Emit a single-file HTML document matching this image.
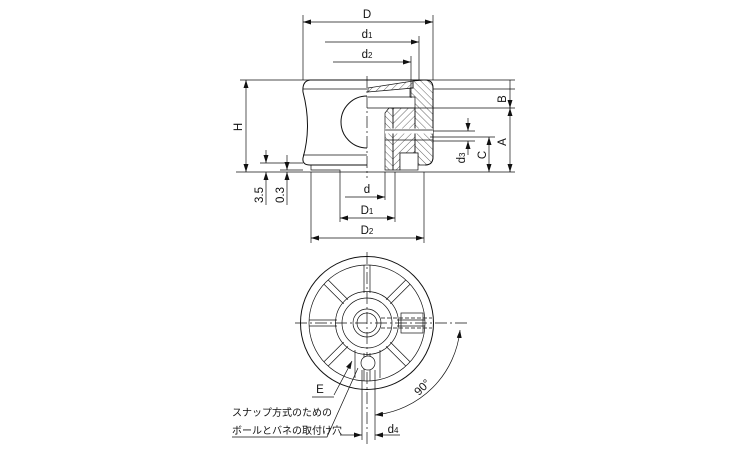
<!DOCTYPE html>
<html><head><meta charset="utf-8"><style>
html,body{margin:0;padding:0;background:#fff;width:750px;height:450px;overflow:hidden}
text{font-family:"Liberation Sans",Arial,sans-serif;fill:#111}
.jp{font-family:"Liberation Sans","Noto Sans CJK JP",sans-serif}
</style></head><body>
<svg width="750" height="450" viewBox="0 0 750 450" xmlns="http://www.w3.org/2000/svg">
<defs>
<pattern id="h1" width="5" height="5" patternUnits="userSpaceOnUse" patternTransform="rotate(45)"><line x1="0" y1="0" x2="0" y2="5" stroke="#222" stroke-width="0.7"/></pattern>
<pattern id="h2" width="5" height="5" patternUnits="userSpaceOnUse" patternTransform="rotate(-45)"><line x1="0" y1="0" x2="0" y2="5" stroke="#222" stroke-width="0.7"/></pattern>
<marker id="a" markerWidth="8" markerHeight="6" refX="8" refY="3" orient="auto" markerUnits="userSpaceOnUse"><path d="M0,0.5 L8,3 L0,5.5 Z" fill="#111"/></marker>
<marker id="s" markerWidth="8" markerHeight="6" refX="0" refY="3" orient="auto" markerUnits="userSpaceOnUse"><path d="M8,0.5 L0,3 L8,5.5 Z" fill="#111"/></marker>
</defs>
<g stroke="#111" stroke-width="0.7" fill="none">
<line x1="303" y1="15" x2="303" y2="80"/><line x1="433" y1="15" x2="433" y2="80"/>
<line x1="303" y1="22" x2="433" y2="22" marker-start="url(#s)" marker-end="url(#a)"/>
<line x1="325" y1="42" x2="419" y2="42" marker-end="url(#a)"/><line x1="419" y1="36" x2="419" y2="80"/>
<line x1="333" y1="62" x2="411" y2="62" marker-end="url(#a)"/><line x1="411" y1="56" x2="411" y2="98"/>
<line x1="240" y1="80" x2="310" y2="80"/>
<line x1="246" y1="80" x2="246" y2="172" marker-start="url(#s)" marker-end="url(#a)"/>
<line x1="236" y1="172" x2="515" y2="172"/>
<line x1="425" y1="80" x2="515" y2="80"/>
<line x1="433" y1="89" x2="515" y2="89"/>
<line x1="433" y1="108" x2="515" y2="108"/>
<line x1="510" y1="80" x2="510" y2="172"/>
<line x1="510" y1="100" x2="510" y2="108" marker-end="url(#a)"/>
<line x1="510" y1="115" x2="510" y2="108" marker-end="url(#a)"/>
<line x1="510" y1="165" x2="510" y2="172" marker-end="url(#a)"/>
<line x1="430" y1="137" x2="495" y2="137"/>
<line x1="489" y1="137" x2="489" y2="172" marker-start="url(#s)" marker-end="url(#a)"/>
<line x1="433" y1="131" x2="475" y2="131"/><line x1="433" y1="141" x2="475" y2="141"/>
<line x1="468" y1="118" x2="468" y2="131" marker-end="url(#a)"/>
<line x1="468" y1="155" x2="468" y2="141" marker-end="url(#a)"/>
<line x1="260" y1="163" x2="303" y2="163"/>
<line x1="266" y1="150" x2="266" y2="163" marker-end="url(#a)"/>
<line x1="266" y1="205" x2="266" y2="172" marker-end="url(#a)"/>
<line x1="287" y1="155" x2="287" y2="170" marker-end="url(#a)"/>
<line x1="287" y1="205" x2="287" y2="172" marker-end="url(#a)"/>
<line x1="280" y1="170" x2="303" y2="170"/>
<line x1="311" y1="172" x2="311" y2="243"/><line x1="424" y1="172" x2="424" y2="243"/>
<line x1="340" y1="172" x2="340" y2="222"/><line x1="395" y1="172" x2="395" y2="222"/>
<line x1="385" y1="172" x2="385" y2="200"/>
<line x1="345" y1="197" x2="385" y2="197" marker-end="url(#a)"/>
<line x1="340" y1="218" x2="395" y2="218" marker-start="url(#s)" marker-end="url(#a)"/>
<line x1="311" y1="238" x2="424" y2="238" marker-start="url(#s)" marker-end="url(#a)"/>
<line x1="367" y1="76" x2="367" y2="178" stroke-dasharray="12,3,2,3"/>
<path d="M310,80 L425,80 Q433,80 433,88 L433,157 Q433,165 425,165" stroke-width="1"/>
<path d="M310,80 Q302,81 303,92 Q312,126 303,158 Q302,165 310,165 L367,165" stroke-width="1"/>
<line x1="303" y1="89" x2="367" y2="89"/><line x1="303" y1="155" x2="367" y2="155"/>
<path d="M367,96 A26,26 0 0 0 367,148" stroke-width="1"/>
<path d="M311,165 L311,170 L340,170 L340,172" />
<line x1="367" y1="108" x2="433" y2="108"/>
<path d="M368,88 L413,81 L413,88 L368,92 Z" fill="url(#h1)"/>
<path d="M413,81 L425,80 Q433,80 433,88 L433,157 Q433,165 425,165 L418,165 L418,153 L415,153 L415,97 L410,97 L410,88 L413,88 Z" fill="url(#h2)"/>
<path d="M393,108 L415,108 L415,153 L400,153 L400,170 L393,170 Z" fill="url(#h1)"/>
<path d="M385,113 L389,108 L393,108 L393,170 L385,170 Z" fill="url(#h2)"/>
<rect x="400" y="153" width="18" height="17" fill="#fff"/>
<line x1="385" y1="131" x2="433" y2="131" stroke="#fff" stroke-width="5"/>
<line x1="385" y1="130" x2="433" y2="130"/><line x1="385" y1="140" x2="433" y2="140"/>
<line x1="368" y1="97" x2="410" y2="97"/>
<line x1="295" y1="323" x2="470" y2="323" stroke-dasharray="12,3,2,3"/>
<line x1="367" y1="252" x2="367" y2="445" stroke-dasharray="12,3,2,3"/>
<circle cx="367" cy="323" r="66.5" stroke-width="1"/>
<circle cx="367" cy="323" r="58"/>
<circle cx="367" cy="323" r="31.5"/>
<circle cx="367" cy="323" r="25"/>
<circle cx="367" cy="323" r="14"/>
<circle cx="367" cy="323" r="10"/>
<g id="sp"><line x1="397" y1="320" x2="425" y2="320"/><line x1="397" y1="326" x2="425" y2="326"/></g>
<use href="#sp" transform="rotate(45 367 323)"/><use href="#sp" transform="rotate(90 367 323)"/><use href="#sp" transform="rotate(135 367 323)"/>
<use href="#sp" transform="rotate(180 367 323)"/><use href="#sp" transform="rotate(225 367 323)"/><use href="#sp" transform="rotate(270 367 323)"/><use href="#sp" transform="rotate(315 367 323)"/>
<line x1="381" y1="318" x2="432" y2="318" stroke-dasharray="4,2"/><line x1="381" y1="328" x2="432" y2="328" stroke-dasharray="4,2"/>
<rect x="401" y="313" width="22" height="20" />
<line x1="355" y1="350" x2="355" y2="378"/><line x1="380" y1="350" x2="380" y2="378"/>
<circle cx="368" cy="363" r="7" fill="#fff"/>
<line x1="362" y1="370" x2="362" y2="440"/><line x1="375" y1="370" x2="375" y2="440"/>
<line x1="340" y1="435" x2="362" y2="435" marker-end="url(#a)"/>
<line x1="400" y1="435" x2="375" y2="435" marker-end="url(#a)"/>
<path d="M375,415 A95,95 0 0 0 460,330" marker-start="url(#s)" marker-end="url(#a)"/>
<path d="M334,395 L352,361" marker-end="url(#a)"/>
<path d="M312,397 L334,397"/>
<path d="M232,437 L327,437 L358,368"/>
</g>
<g font-size="11.5" text-anchor="middle">
<text x="367" y="18">D</text>
<text x="367" y="38">d<tspan font-size="8">1</tspan></text>
<text x="367" y="58">d<tspan font-size="8">2</tspan></text>
<text x="367" y="193">d</text>
<text x="367" y="214">D<tspan font-size="8">1</tspan></text>
<text x="367" y="234">D<tspan font-size="8">2</tspan></text>
<text transform="translate(242,127) rotate(-90)">H</text>
<text transform="translate(506,99) rotate(-90)">B</text>
<text transform="translate(506,142) rotate(-90)">A</text>
<text transform="translate(486,155) rotate(-90)">C</text>
<text transform="translate(465,158) rotate(-90)">d<tspan font-size="8">3</tspan></text>
<text transform="translate(263,195) rotate(-90)">3.5</text>
<text transform="translate(284,195) rotate(-90)">0.3</text>
<text x="320" y="393">E</text>
<text x="393" y="433">d<tspan font-size="8">4</tspan></text>
<text transform="translate(425,390) rotate(-45)">90°</text>
</g>
<text class="jp" x="232" y="416" font-size="10">スナップ方式のための</text>
<text class="jp" x="232" y="434" font-size="10">ボールとバネの取付け穴</text>
</svg>
</body></html>
